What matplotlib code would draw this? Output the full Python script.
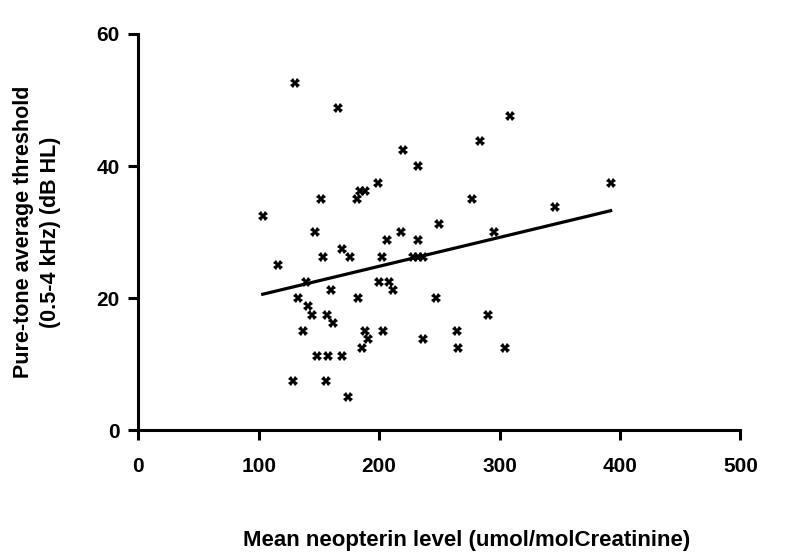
import numpy as np
import matplotlib
matplotlib.use("Agg")
import matplotlib.pyplot as plt

# neopterin (umol/mol creatinine) vs pure-tone average threshold (dB HL)
neopterin = [130.0, 165.5, 199.0, 184.0, 188.0, 181.8, 151.7, 103.3, 146.7, 168.9,
             115.7, 153.1, 175.8, 202.1, 139.2, 160.0, 200.1, 132.3, 182.7, 141.2,
             144.0, 156.4, 161.9, 136.5, 188.2, 191.0, 186.0, 148.1, 157.8, 168.9,
             128.7, 155.8, 173.9, 283.7, 220.0, 232.5, 276.8, 249.9, 218.1, 206.2,
             232.0, 295.3, 227.8, 232.0, 236.6, 208.4, 211.2, 247.2, 290.6, 203.4,
             264.9, 236.1, 265.7, 308.6, 392.2, 346.0, 304.5]
threshold = [52.5, 48.75, 37.5, 36.25, 36.25, 35.0, 35.0, 32.5, 30.0, 27.5,
             25.0, 26.25, 26.25, 26.25, 22.5, 21.25, 22.5, 20.0, 20.0, 18.75,
             17.5, 17.5, 16.25, 15.0, 15.0, 13.75, 12.5, 11.25, 11.25, 11.25,
             7.5, 7.5, 5.0, 43.75, 42.5, 40.0, 35.0, 31.25, 30.0, 28.75,
             28.75, 30.0, 26.25, 26.25, 26.25, 22.5, 21.25, 20.0, 17.5, 15.0,
             15.0, 13.75, 12.5, 47.5, 37.5, 33.75, 12.5]

xticks = [0, 100, 200, 300, 400, 500]
yticks = [0, 20, 40, 60]

plt.rcParams['font.family'] = ['Liberation Sans', 'DejaVu Sans']
plt.rcParams['font.weight'] = 'bold'

fig = plt.figure(figsize=(8.06, 5.6), dpi=100)
ax = fig.add_axes([0.1716, 0.2321, 0.7471, 0.7072])

x = np.array(neopterin)
y = np.array(threshold)
ax.plot(x, y, linestyle='none', marker='X', markersize=6.5, color='black',
        markeredgewidth=0, clip_on=False)

# linear regression line over the data range
slope, intercept = np.polyfit(x, y, 1)
xs = np.array([x.min(), x.max()])
ax.plot(xs, slope * xs + intercept, color='black', linewidth=2.3)

ax.set_xlim(0, 500)
ax.set_ylim(0, 60)
ax.set_xticks(xticks)
ax.set_yticks(yticks)

for s in ['top', 'right']:
    ax.spines[s].set_visible(False)
for s in ['left', 'bottom']:
    ax.spines[s].set_linewidth(2.2)

ax.tick_params(axis='both', length=7.5, width=2.2, labelsize=15)
ax.tick_params(axis='x', pad=12)
ax.tick_params(axis='y', pad=6)

ax.set_xlabel('Mean neopterin level (umol/molCreatinine)', fontsize=16,
              fontweight='bold', va='center')
ax.xaxis.set_label_coords(0.546, -0.278)
ax.set_ylabel('Pure-tone average threshold\n(0.5-4 kHz) (dB HL)', fontsize=15.5,
              fontweight='bold', va='center', linespacing=1.35)
ax.yaxis.set_label_coords(-0.168, 0.5)

fig.savefig('out.png', dpi=100)
